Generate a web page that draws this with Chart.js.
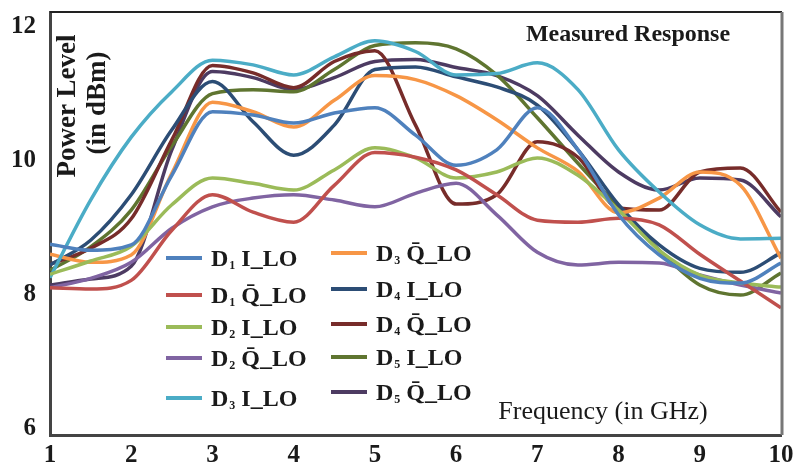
<!DOCTYPE html>
<html>
<head>
<meta charset="utf-8">
<title>Measured Response</title>
<script src="https://cdn.jsdelivr.net/npm/chart.js@4.4.1/dist/chart.umd.min.js"></script>
<style>
  body { margin: 0; background: #fff; }
  #wrap { width: 797px; height: 470px; }
</style>
</head>
<body>
<div id="wrap"><canvas id="grafica" width="797" height="470"></canvas></div>
<script>
// frequency (GHz), every half step
var frecuencias = [1, 1.5, 2, 2.5, 3, 3.5, 4, 4.5, 5, 5.5, 6, 6.5, 7, 7.5, 8, 8.5, 9, 9.5, 10];

// power level (dBm)
var d1I = [8.75, 8.66, 8.74, 9.78, 10.73, 10.68, 10.56, 10.71, 10.79, 10.38, 9.93, 10.16, 10.79, 10.16, 9.19, 8.59, 8.24, 8.17, 8.47];
var d1Q = [8.1, 8.08, 8.21, 8.96, 9.49, 9.23, 9.08, 9.63, 10.12, 10.05, 9.86, 9.49, 9.11, 9.08, 9.14, 9.04, 8.6, 8.2, 7.8];
var d2I = [8.3, 8.5, 8.72, 9.34, 9.74, 9.66, 9.56, 9.86, 10.19, 10.04, 9.74, 9.83, 10.04, 9.78, 9.26, 8.66, 8.29, 8.17, 8.11];
var d2Q = [8.1, 8.24, 8.48, 8.99, 9.31, 9.44, 9.49, 9.41, 9.31, 9.51, 9.66, 9.19, 8.63, 8.44, 8.48, 8.47, 8.29, 8.14, 8.02];
var d3I = [8.25, 9.41, 10.35, 11.03, 11.5, 11.43, 11.28, 11.55, 11.79, 11.63, 11.28, 11.3, 11.46, 11.06, 10.16, 9.53, 9.04, 8.83, 8.84];
var d3Q = [8.6, 8.48, 8.59, 9.81, 10.87, 10.73, 10.5, 10.9, 11.27, 11.21, 10.97, 10.61, 10.19, 9.84, 9.22, 9.44, 9.83, 9.63, 8.54];
var d4I = [8.44, 8.81, 9.49, 10.46, 11.18, 10.58, 10.08, 10.53, 11.36, 11.4, 11.25, 11.1, 10.83, 10.16, 9.34, 8.74, 8.39, 8.33, 8.62];
var d4Q = [8.45, 8.69, 9.13, 10.31, 11.42, 11.31, 11.09, 11.48, 11.64, 10.53, 9.35, 9.49, 10.28, 10.05, 9.29, 9.26, 9.83, 9.89, 9.23];
var d5I = [8.36, 8.71, 9.26, 10.22, 11.0, 11.06, 11.03, 11.36, 11.72, 11.76, 11.67, 11.28, 10.64, 9.96, 9.3, 8.66, 8.14, 7.99, 8.32];
var d5Q = [8.14, 8.23, 8.42, 10.16, 11.33, 11.24, 11.06, 11.24, 11.48, 11.51, 11.39, 11.27, 10.97, 10.38, 9.83, 9.56, 9.74, 9.71, 9.16];

var series = [d1I, d1Q, d2I, d2Q, d3I, d3Q, d4I, d4Q, d5I, d5Q];
var etiquetas = ['D\u2081 I_LO', 'D\u2081 Q\u0304_LO', 'D\u2082 I_LO', 'D\u2082 Q\u0304_LO', 'D\u2083 I_LO',
                 'D\u2083 Q\u0304_LO', 'D\u2084 I_LO', 'D\u2084 Q\u0304_LO', 'D\u2085 I_LO', 'D\u2085 Q\u0304_LO'];
var colores = ['#4F81BD', '#C0504D', '#9BBB59', '#8064A2', '#4BACC6',
               '#F79646', '#2C4D75', '#772C2A', '#5F7530', '#4D3B62'];

var ticksX = [1, 2, 3, 4, 5, 6, 7, 8, 9, 10];
var ticksY = [6, 8, 10, 12];

var titulo = 'Measured Response';
var tituloX = 'Frequency (in GHz)';
var tituloY = ['Power Level', '(in dBm)'];

var SERIF = '"Liberation Serif", "DejaVu Serif", serif';

function puntos(serie) {
    var p = [];
    for (var i = 0; i < frecuencias.length; i++) {
        p.push({ x: frecuencias[i], y: serie[i] });
    }
    return p;
}

var datasets = [];
for (var i = 0; i < series.length; i++) {
    datasets.push({
        label: etiquetas[i],
        data: puntos(series[i]),
        borderColor: colores[i],
        backgroundColor: colores[i],
        borderWidth: 3.5,
        pointRadius: 0,
        cubicInterpolationMode: 'monotone',
        fill: false
    });
}

// frame, titles and the two-column legend
var extras = {
    id: 'extras',
    afterDraw: function (chart) {
        var ctx = chart.ctx;
        var a = chart.chartArea;
        ctx.save();

        // top and right edges of the box
        ctx.lineWidth = 2;
        ctx.strokeStyle = '#222';
        ctx.beginPath();
        ctx.moveTo(a.left, a.top);
        ctx.lineTo(a.right + 1, a.top);
        ctx.stroke();
        ctx.lineWidth = 3;
        ctx.strokeStyle = '#777';
        ctx.beginPath();
        ctx.moveTo(a.right + 1, a.top);
        ctx.lineTo(a.right + 1, a.bottom);
        ctx.stroke();

        ctx.fillStyle = '#1a1a1a';
        ctx.textBaseline = 'middle';
        ctx.textAlign = 'center';

        ctx.font = 'bold 24px ' + SERIF;
        ctx.fillText(titulo, 628, 35);

        ctx.font = '26px ' + SERIF;
        ctx.fillText(tituloX, 603, 412);

        ctx.font = 'bold 27px ' + SERIF;
        ctx.save();
        ctx.translate(68, 106);
        ctx.rotate(-Math.PI / 2);
        ctx.fillText(tituloY[0], 0, 0);
        ctx.restore();
        ctx.save();
        ctx.translate(98, 103);
        ctx.rotate(-Math.PI / 2);
        ctx.fillText(tituloY[1], 0, 0);
        ctx.restore();

        // legend
        var filasIzq = [258, 295, 327, 358, 398];
        var filasDer = [253, 289, 324, 357, 392];
        ctx.textAlign = 'left';
        ctx.textBaseline = 'alphabetic';
        for (var k = 0; k < etiquetas.length; k++) {
            var izq = k < 5;
            var y = izq ? filasIzq[k] : filasDer[k - 5];
            var x0 = izq ? 166 : 331;
            ctx.strokeStyle = colores[k];
            ctx.lineWidth = 4;
            ctx.beginPath();
            ctx.moveTo(x0, y);
            ctx.lineTo(x0 + 36, y);
            ctx.stroke();

            var txt = etiquetas[k];
            var sub = String(txt.charCodeAt(1) - 0x2080);
            var resto = txt.substring(2);
            var tx = x0 + 45;
            var base = y + 8;
            ctx.fillStyle = '#1a1a1a';
            ctx.font = 'bold 24px ' + SERIF;
            ctx.fillText('D', tx, base);
            tx += ctx.measureText('D').width;
            ctx.font = 'bold 12px ' + SERIF;
            ctx.fillText(sub, tx + 1, base + 3);
            tx += ctx.measureText(sub).width + 1;
            ctx.font = 'bold 24px ' + SERIF;
            ctx.fillText(resto, tx, base);
        }
        ctx.restore();
    }
};

var ctx = document.getElementById('grafica').getContext('2d');
var grafica = new Chart(ctx, {
    type: 'line',
    data: { datasets: datasets },
    options: {
        responsive: false,
        animation: false,
        devicePixelRatio: 1,
        layout: { padding: { top: 12, right: 16, left: 0, bottom: 0 } },
        plugins: {
            legend: { display: false },
            tooltip: { enabled: false }
        },
        scales: {
            x: {
                type: 'linear',
                min: 1,
                max: 10,
                afterBuildTicks: function (s) {
                    s.ticks = ticksX.map(function (v) { return { value: v }; });
                },
                afterFit: function (s) {
                    s.height = 35;
                    s.paddingLeft = 0;
                    s.paddingRight = 0;
                },
                grid: { display: false, drawTicks: false },
                border: { display: true, color: '#444', width: 3 },
                ticks: {
                    padding: 6,
                    color: '#1a1a1a',
                    font: { family: SERIF, size: 25, weight: 'bold' }
                }
            },
            y: {
                min: 5.9,
                max: 12.22,
                afterBuildTicks: function (s) {
                    s.ticks = ticksY.map(function (v) { return { value: v }; });
                },
                afterFit: function (s) {
                    s.width = 50;
                    s.paddingTop = 0;
                    s.paddingBottom = 0;
                },
                grid: { display: false, drawTicks: false },
                border: { display: true, color: '#444', width: 3 },
                ticks: {
                    padding: 14,
                    color: '#1a1a1a',
                    font: { family: SERIF, size: 25, weight: 'bold' }
                }
            }
        }
    },
    plugins: [extras]
});
</script>
</body>
</html>
